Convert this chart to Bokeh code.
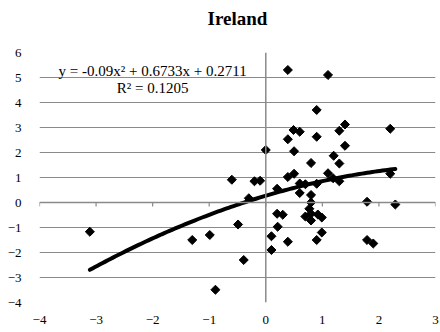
import numpy as np
from bokeh.plotting import figure
from bokeh.models import Span, Label, FixedTicker, Range1d, Title
from bokeh.embed import file_html
from bokeh.resources import INLINE

# ---- data ----
x_vals = [0.39, 1.10, 0.90, 0.49, 0.60, 1.30, 1.40, 2.20, 0.90, 0.39,
          0.00, 0.50, 1.40, 1.20, 1.30, 0.80, -0.60, -0.20, -0.10, 0.39,
          0.50, 1.10, 1.19, 1.30, 2.20, 0.20, 0.60, 0.70, 0.90, -0.30,
          0.60, 0.80, 0.80, 1.79, 2.29, 0.77, 0.70, 0.80, 0.92, 0.99,
          0.80, 0.20, 0.30, -0.49, 0.21, 0.10, 0.39, 0.10, -0.39, 0.99,
          0.90, -3.11, -1.30, -0.99, -0.89, 1.79, 1.90]
y_vals = [5.30, 5.10, 3.70, 2.90, 2.83, 2.87, 3.12, 2.95, 2.63, 2.53,
          2.10, 2.05, 2.27, 1.87, 1.56, 1.58, 0.91, 0.85, 0.87, 1.02,
          1.15, 1.17, 0.97, 0.85, 1.15, 0.55, 0.76, 0.73, 0.75, 0.17,
          0.38, 0.30, 0.00, 0.03, -0.08, -0.25, -0.56, -0.45, -0.48, -0.60,
          -0.72, -0.45, -0.49, -0.88, -0.97, -1.35, -1.57, -1.90, -2.30, -1.20,
          -1.50, -1.17, -1.50, -1.30, -3.49, -1.50, -1.64]

# trendline coefficients shown on the chart
coef_a, coef_b, coef_c = -0.09, 0.6733, 0.2711
r_squared = 0.1205

x_ticks = [-4, -3, -2, -1, 0, 1, 2, 3]
y_ticks = [-4, -3, -2, -1, 0, 1, 2, 3, 4, 5, 6]

title_text = "Ireland"
eq_text = "y = -0.09x\u00b2 + 0.6733x + 0.2711"
r2_text = "R\u00b2 = 0.1205"

SERIF = "Liberation Serif"
GRID = "#8a8a8a"

p = figure(width=440, height=332, output_backend="svg", toolbar_location=None,
           x_range=Range1d(-4, 3), y_range=Range1d(-4, 6),
           min_border_left=39, min_border_right=5, min_border_top=52,
           min_border_bottom=30, title=None)
p.outline_line_color = None
p.background_fill_color = "white"
p.border_fill_color = "white"

# title: a trailing empty line lifts it away from the plotting area
p.add_layout(Title(text=title_text + "\n", align="center", text_font=SERIF,
                   text_font_size="19px", text_font_style="bold", text_color="black",
                   text_line_height=1.1, standoff=0, offset=-3), "above")

# axes
p.xaxis.ticker = FixedTicker(ticks=x_ticks)
p.yaxis.ticker = FixedTicker(ticks=y_ticks)
for ax in (p.xaxis[0], p.yaxis[0]):
    ax.axis_line_color = None
    ax.major_tick_line_color = None
    ax.minor_tick_line_color = None
    ax.major_label_text_font = SERIF
    ax.major_label_text_font_size = "13px"
    ax.major_label_text_color = "black"
p.xaxis.major_label_standoff = 7
p.yaxis.major_label_standoff = 12

p.xgrid.grid_line_color = None
p.ygrid.ticker = FixedTicker(ticks=y_ticks)
p.ygrid.grid_line_color = GRID
p.ygrid.grid_line_width = 1

# vertical axis line at x = 0, horizontal axis at y = 0 with ticks
p.add_layout(Span(location=0, dimension="height", line_color=GRID, line_width=1.5))
p.add_layout(Span(location=0, dimension="width", line_color=GRID, line_width=1.5))
p.segment(x0=x_ticks, y0=[0] * len(x_ticks), x1=x_ticks, y1=[-0.16] * len(x_ticks),
          line_color=GRID, line_width=1.2)

# scatter points (diamonds)
p.scatter(x_vals, y_vals, marker="square", angle=np.pi / 4, size=6.4,
          fill_color="black", line_color="black")

# polynomial trendline from the chart's equation
xs = np.linspace(min(x_vals), max(x_vals), 120)
ys = coef_a * xs ** 2 + coef_b * xs + coef_c
p.line(xs, ys, line_color="black", line_width=4, line_cap="round")

# equation labels
p.add_layout(Label(x=-2.0, y=5.27, text=eq_text, text_font=SERIF, text_font_size="15px",
                   text_align="center", text_baseline="alphabetic", text_color="black"))
p.add_layout(Label(x=-2.0, y=4.58, text=r2_text, text_font=SERIF, text_font_size="15px",
                   text_align="center", text_baseline="alphabetic", text_color="black"))

open("out.html", "w").write(file_html(p, INLINE))
